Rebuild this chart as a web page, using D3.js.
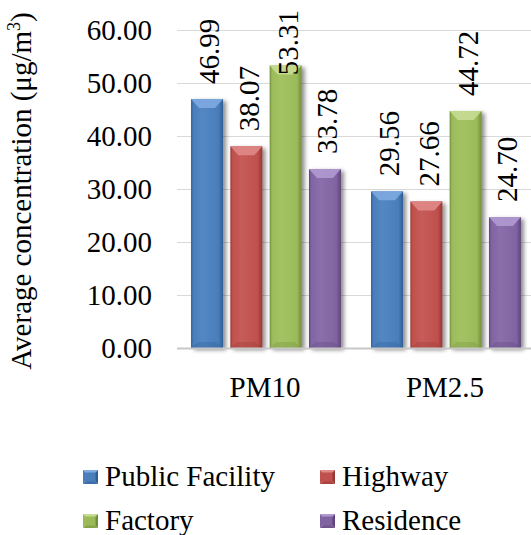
<!DOCTYPE html>
<html>
<head>
<meta charset="utf-8">
<script src="https://cdn.jsdelivr.net/npm/d3@7"></script>
</head>
<body style="margin:0">
<svg id="chart" width="531" height="535"></svg>
<script>
// Average PM concentration by site type
const categories = ["PM10", "PM2.5"];
const seriesNames = ["Public Facility", "Highway", "Factory", "Residence"];
const publicFacility = [46.99, 29.56];
const highway = [38.07, 27.66];
const factory = [53.31, 44.72];
const residence = [33.78, 24.70];
const yTicks = [0, 10, 20, 30, 40, 50, 60];

const seriesValues = [publicFacility, highway, factory, residence];
const palette = [
  { base: "#4a7ebb", light: "#7eaae0", dark: "#2f5e95" },
  { base: "#c0504d", light: "#e08a87", dark: "#943835" },
  { base: "#9bbb59", light: "#c6dc92", dark: "#728d3a" },
  { base: "#8064a2", light: "#b09ad0", dark: "#5c457a" }
];
const FONT = "Liberation Serif";

const svg = d3.select("#chart");
const defs = svg.append("defs");

// soft drop shadow behind each bar
const shadow = defs.append("filter").attr("id", "shadow")
  .attr("x", "-30%").attr("y", "-10%").attr("width", "160%").attr("height", "120%");
shadow.append("feGaussianBlur").attr("in", "SourceAlpha").attr("stdDeviation", 2.2).attr("result", "b");
shadow.append("feOffset").attr("in", "b").attr("dx", 2.5).attr("dy", 1.5).attr("result", "o");
shadow.append("feComponentTransfer").attr("in", "o").attr("result", "s")
  .append("feFuncA").attr("type", "linear").attr("slope", 0.45);
const merge = shadow.append("feMerge");
merge.append("feMergeNode").attr("in", "s");
merge.append("feMergeNode").attr("in", "SourceGraphic");

palette.forEach((c, i) => {
  const g = defs.append("linearGradient").attr("id", "bar" + i)
    .attr("x1", "0").attr("x2", "1").attr("y1", "0").attr("y2", "0");
  g.append("stop").attr("offset", "0").attr("stop-color", c.dark);
  g.append("stop").attr("offset", "0.07").attr("stop-color", c.base);
  g.append("stop").attr("offset", "0.35").attr("stop-color", d3.interpolateRgb(c.base, c.light)(0.2));
  g.append("stop").attr("offset", "0.85").attr("stop-color", c.base);
  g.append("stop").attr("offset", "1").attr("stop-color", c.dark);
});

// scales
const y = d3.scaleLinear().domain([0, 60]).range([348, 30]);
const x0 = d3.scaleBand().domain(categories).range([176, 536]).padding(0);
const x1 = d3.scaleBand().domain(seriesNames).range([0, x0.bandwidth()])
  .paddingInner(0.186).paddingOuter(0.383);

const plotLeft = 177, plotRight = 531;

// gridlines
svg.append("g").selectAll("line").data(yTicks.filter(t => t > 0)).join("line")
  .attr("x1", plotLeft).attr("x2", plotRight)
  .attr("y1", d => Math.round(y(d)) + 0.5).attr("y2", d => Math.round(y(d)) + 0.5)
  .attr("stroke", "#d9d9d9").attr("stroke-width", 1);

// y axis labels
const yAxis = d3.axisLeft(y).tickValues(yTicks).tickFormat(d3.format(".2f")).tickSize(0).tickPadding(0);
const yAxisG = svg.append("g").attr("transform", "translate(152,0)").call(yAxis)
  .attr("font-family", FONT).attr("font-size", 29);
yAxisG.select(".domain").remove();
yAxisG.selectAll("text").attr("fill", "#000");

// bars
const bars = svg.append("g");
categories.forEach((cat, ci) => {
  seriesNames.forEach((s, si) => {
    const v = seriesValues[si][ci];
    const bx = x0(cat) + x1(s);
    const bw = x1.bandwidth();
    const by = y(v);
    const bh = y(0) - by;
    const c = palette[si];
    const g = bars.append("g");
    g.append("rect").attr("x", bx).attr("y", by).attr("width", bw).attr("height", bh)
      .attr("fill", "url(#bar" + si + ")").attr("filter", "url(#shadow)");
    // top bevel
    g.append("polygon")
      .attr("points", [[bx, by], [bx + bw, by], [bx + bw - 8, by + 9], [bx + 8, by + 9]].map(p => p.join(",")).join(" "))
      .attr("fill", c.light).attr("opacity", 0.9);
    // bottom bevel
    g.append("polygon")
      .attr("points", [[bx, by + bh], [bx + bw, by + bh], [bx + bw - 7, by + bh - 6], [bx + 7, by + bh - 6]].map(p => p.join(",")).join(" "))
      .attr("fill", c.dark).attr("opacity", 0.3);
  });
});

// baseline
svg.append("line").attr("x1", plotLeft).attr("x2", plotRight)
  .attr("y1", y(0) + 0.5).attr("y2", y(0) + 0.5)
  .attr("stroke", "#c8c8c8").attr("stroke-width", 2);

// value labels, rotated, kept inside the top of the plot
const labels = svg.append("g").attr("font-family", FONT).attr("font-size", 29);
categories.forEach((cat, ci) => {
  seriesNames.forEach((s, si) => {
    const v = seriesValues[si][ci];
    const cx = x0(cat) + x1(s) + x1.bandwidth() / 2;
    const t = labels.append("text")
      .attr("fill", "#000")
      .attr("text-anchor", "start")
      .attr("dy", "0.35em")
      .text(d3.format(".2f")(v));
    const len = 2.25 * 29;
    const startY = Math.max(y(v) - 15, 10 + len);
    t.attr("transform", `translate(${cx + 2},${startY}) rotate(-90)`);
  });
});

// category labels
svg.append("g").attr("font-family", FONT).attr("font-size", 29)
  .selectAll("text").data(categories).join("text")
  .attr("x", d => x0(d) + x0.bandwidth() / 2 - 1)
  .attr("y", 397)
  .attr("text-anchor", "middle")
  .attr("fill", "#000")
  .text(d => d);

// axis title
const title = svg.append("text")
  .attr("transform", "translate(31,191) rotate(-90)")
  .attr("text-anchor", "middle")
  .attr("font-family", FONT).attr("font-size", 29)
  .attr("fill", "#000");
title.append("tspan").text("Average concentration (μg/m");
title.append("tspan").attr("font-size", 18).attr("dy", -11).text("3");
title.append("tspan").attr("dy", 11).text(")");

// legend
const legendItems = [
  { x: 83, y: 470 }, { x: 320, y: 470 },
  { x: 83, y: 514 }, { x: 320, y: 514 }
];
const legend = svg.append("g").attr("font-family", FONT).attr("font-size", 29);
seriesNames.forEach((s, i) => {
  const p = legendItems[i];
  const c = palette[i];
  const w = 15, h = 14;
  const g = legend.append("g").attr("transform", `translate(${p.x},${p.y})`);
  const cxm = w / 2, cym = h / 2;
  // pyramid-style marker: four faces
  g.append("polygon").attr("points", `0,0 ${w},0 ${cxm},${cym}`).attr("fill", c.light);
  g.append("polygon").attr("points", `0,0 ${cxm},${cym} 0,${h}`).attr("fill", c.base);
  g.append("polygon").attr("points", `${w},0 ${w},${h} ${cxm},${cym}`).attr("fill", c.dark);
  g.append("polygon").attr("points", `0,${h} ${cxm},${cym} ${w},${h}`).attr("fill", d3.interpolateRgb(c.base, c.dark)(0.5));
  g.append("rect").attr("x", 2.5).attr("y", 2.5).attr("width", w - 5).attr("height", h - 5).attr("fill", c.base);
  g.append("text").attr("x", 22).attr("y", 16).attr("fill", "#000").text(s);
});
</script>
</body>
</html>
